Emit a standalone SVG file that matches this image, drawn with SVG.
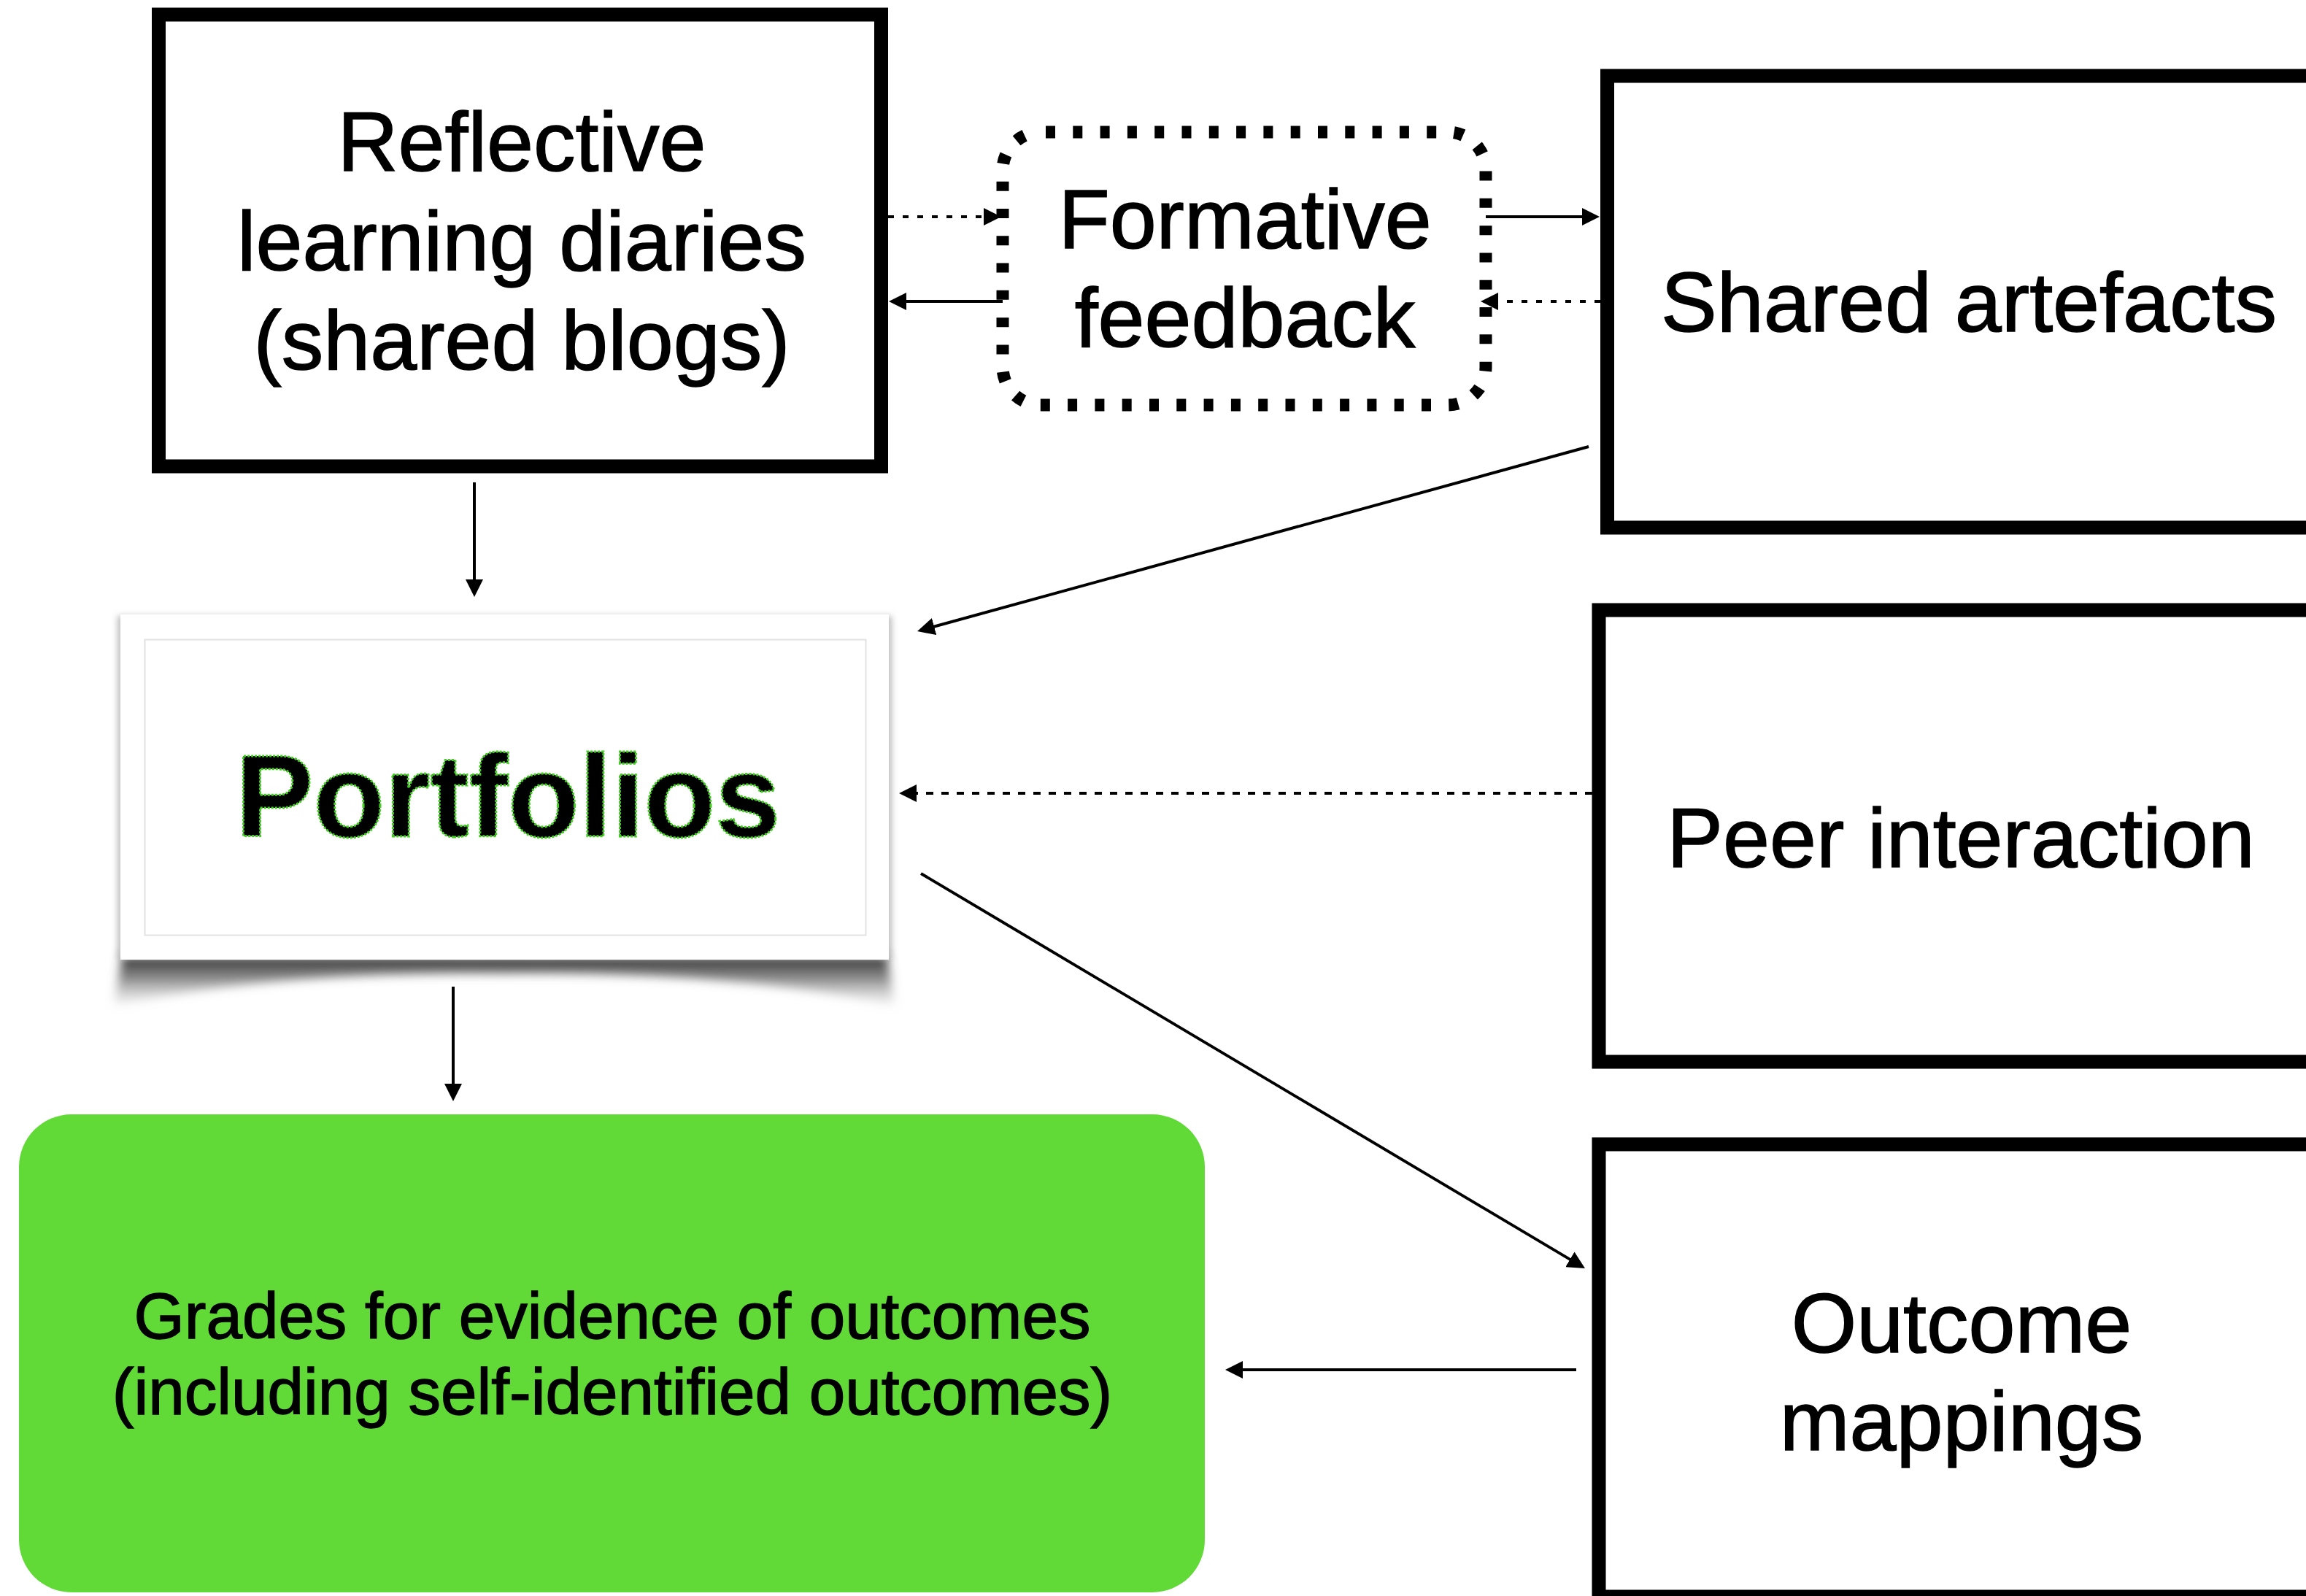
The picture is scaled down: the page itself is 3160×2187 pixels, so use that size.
<svg xmlns="http://www.w3.org/2000/svg" width="3160" height="2187" viewBox="0 0 3160 2187">
<style>
.box{fill:#fff;stroke:#000;stroke-width:19}
.lbl{font-family:"Liberation Sans",Arial,Helvetica,sans-serif;font-size:115px;fill:#000;stroke:#000;stroke-width:1.5;text-anchor:middle}
.con{fill:none;stroke:#000;stroke-width:4}
.dot{stroke-dasharray:8 12}
.dash{stroke-dasharray:10 11}
</style>
<defs>
<marker id="ah" viewBox="0 0 24 24" refX="12" refY="12" markerWidth="24" markerHeight="24" markerUnits="userSpaceOnUse" orient="auto">
<path d="M0,0 L24,12 L0,24 Z" fill="#000"/>
</marker>
<filter id="blur6" x="-10%" y="-50%" width="120%" height="200%"><feGaussianBlur stdDeviation="7"/></filter>
<filter id="blur4" x="-10%" y="-10%" width="120%" height="120%"><feGaussianBlur stdDeviation="4"/></filter>
<linearGradient id="sh" x1="0" y1="0" x2="0" y2="1">
<stop offset="0" stop-color="#222" stop-opacity="1"/>
<stop offset="0.45" stop-color="#666" stop-opacity="0.8"/>
<stop offset="1" stop-color="#aaa" stop-opacity="0.1"/>
</linearGradient>
</defs>

<g id="reflective">
<rect class="box" x="217.5" y="20" width="990" height="619"/>
<text class="lbl" x="715" y="234">Reflective</text>
<text class="lbl" x="715" y="370">learning diaries</text>
<text class="lbl" x="715" y="506">(shared blogs)</text>
</g>

<g id="formative">
<rect x="1374" y="181" width="662" height="374" rx="52" fill="#fff" stroke="#000" stroke-width="17" stroke-dasharray="13 24.3" stroke-dashoffset="-7"/>
<text class="lbl" x="1706" y="340">Formative</text>
<text class="lbl" x="1706" y="475">feedback</text>
</g>

<g id="shared">
<rect class="box" x="2202.5" y="104" width="1000" height="619"/>
<text class="lbl" x="2698" y="454">Shared artefacts</text>
</g>

<g id="peer">
<rect class="box" x="2191" y="836" width="1000" height="619"/>
<text class="lbl" x="2687" y="1188">Peer interaction</text>
</g>

<g id="outcome">
<rect class="box" x="2191" y="1568" width="1000" height="620"/>
<text class="lbl" x="2688" y="1853">Outcome</text>
<text class="lbl" x="2688" y="1987">mappings</text>
</g>

<g id="portfolios">
<path d="M168 1306 L1215 1306 L1226 1378 Q1000 1330 691 1334 Q380 1330 156 1378 Z" fill="url(#sh)" filter="url(#blur6)"/>
<rect x="161" y="844" width="1061" height="470" fill="#bdbdbd" filter="url(#blur4)"/>
<rect x="165" y="842" width="1053" height="473" fill="#fff"/>
<rect x="198.5" y="876.5" width="988" height="405" fill="none" stroke="#e2e2e2" stroke-width="2"/>
<text x="696" y="1146" font-family="'Liberation Sans',Arial,Helvetica,sans-serif" font-size="160" font-weight="bold" text-anchor="middle" fill="#000" stroke="#3fd21c" stroke-width="3" stroke-dasharray="3 2">Portfolios</text>
</g>

<g id="grades">
<rect x="26" y="1527" width="1625" height="655" rx="72" fill="#61da37"/>
<text x="839" y="1834" font-family="'Liberation Sans',Arial,Helvetica,sans-serif" font-size="89" text-anchor="middle" fill="#000" stroke="#000" stroke-width="1.5">Grades for evidence of outcomes</text>
<text x="839" y="1938" font-family="'Liberation Sans',Arial,Helvetica,sans-serif" font-size="89" text-anchor="middle" fill="#000" stroke="#000" stroke-width="1.5">(including self-identified outcomes)</text>
</g>

<g id="connectors">
<line class="con dot" x1="1217" y1="297" x2="1360" y2="297" marker-end="url(#ah)"/>
<line class="con" x1="1374" y1="413" x2="1230" y2="413" marker-end="url(#ah)"/>
<line class="con" x1="2036" y1="297" x2="2180" y2="297" marker-end="url(#ah)"/>
<line class="con dot" x1="2193" y1="413" x2="2041" y2="413" marker-end="url(#ah)"/>
<line class="con" x1="650" y1="661" x2="650" y2="806" marker-end="url(#ah)"/>
<line class="con" x1="621" y1="1352" x2="621" y2="1497" marker-end="url(#ah)"/>
<line class="con" x1="2177" y1="612" x2="1268.6" y2="861.8" marker-end="url(#ah)"/>
<line class="con dash" x1="2182" y1="1087" x2="1244" y2="1087" marker-end="url(#ah)"/>
<line class="con" x1="1262" y1="1197" x2="2161.7" y2="1731.9" marker-end="url(#ah)"/>
<line class="con" x1="2160" y1="1877" x2="1691" y2="1877" marker-end="url(#ah)"/>
</g>
</svg>
